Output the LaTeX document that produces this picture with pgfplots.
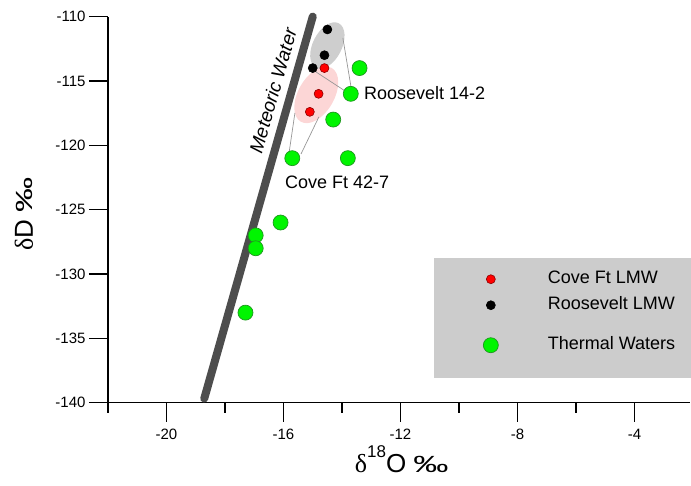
\documentclass[border=0pt]{standalone}
\usepackage{fontspec}
\setmainfont{Liberation Sans}
\newfontfamily\serif{Liberation Serif}
\usepackage{graphicx}
\usepackage{pgfplots}
\pgfplotsset{compat=1.18}
\usetikzlibrary{shapes.geometric}
\definecolor{tgreen}{RGB}{0,245,0}
\definecolor{tgreenedge}{RGB}{30,150,30}
\definecolor{mwgray}{RGB}{77,77,77}
\definecolor{lgbox}{RGB}{204,204,204}
\definecolor{ellgray}{RGB}{206,206,206}
\definecolor{ellpink}{RGB}{252,214,214}
\definecolor{leader}{RGB}{150,150,150}
\begin{document}
\begin{tikzpicture}
\begin{axis}[
  at={(0pt,0pt)}, anchor=south west,
  x=29.25pt, y=12.87pt,
  xmin=-22, xmax=-2.1, ymin=-140, ymax=-110,
  axis x line=bottom, axis y line=left,
  axis line style={-, line width=1.5pt, black},
  tick align=outside,
  major tick length=19pt, minor tick length=10pt,
  every tick/.style={black, line width=1.5pt},
  xtick={-20,-16,-12,-8,-4},
  minor xtick={-22,-18,-14,-10,-6},
  xticklabels={-20,-16,-12,-8,-4},
  ytick={-140,-135,-130,-125,-120,-115,-110},
  yticklabels={-140,-135,-130,-125,-120,-115,-110},
  tick label style={font=\fontsize{15}{18}\selectfont},
  xticklabel style={yshift=-4pt},
  xlabel={{\serif δ}\raisebox{15pt}{\fontsize{17}{17}\selectfont 18}O \scalebox{1.35}[0.9]{‰}},
  ylabel={{\serif δ}D \scalebox{1.35}[0.9]{‰}},
  xlabel style={at={(axis description cs:0.5046,-0.1464)}, anchor=center, font=\fontsize{26}{30}\selectfont},
  ylabel style={at={(axis description cs:-0.1443,0.4889)}, anchor=center, font=\fontsize{26}{30}\selectfont},
  clip=false,
  legend style={at={(axis cs:-9.21,-129.73)}, anchor=north west, fill=none, draw=none,
    inner sep=0pt, font=\fontsize{18}{21}\selectfont, row sep=9pt, column sep=49.5pt,
    nodes={inner sep=0pt, text height=13pt, text depth=4pt}},
  legend cell align=left,
]
% legend box
\fill[lgbox] (axis cs:-10.85,-128.75) rectangle (axis cs:-2.07,-138.07);
% ellipses
\node[ellipse, fill=ellpink, minimum width=62pt, minimum height=36pt, rotate=60, inner sep=0pt] at (axis cs:-14.88,-116.08) {};
\node[ellipse, fill=ellgray, minimum width=50pt, minimum height=29pt, rotate=63, inner sep=0pt] at (axis cs:-14.50,-112.25) {};
% meteoric water line
\addplot[forget plot, color=mwgray, line width=8pt, line cap=round] coordinates {(-18.71,-139.68) (-15,-110)};
\node[rotate=74, inner sep=0pt, font=\itshape\fontsize{19}{22}\selectfont] at (axis cs:-16.36,-115.75) {Meteoric Water};
% leader lines
\draw[leader, line width=0.7pt] (axis cs:-13.97,-111.66) -- (axis cs:-13.68,-115.62);
\draw[leader, line width=0.7pt] (axis cs:-14.89,-114.30) -- (axis cs:-13.90,-115.77);
\draw[leader, line width=0.7pt] (axis cs:-15.61,-117.49) -- (axis cs:-15.81,-120.59);
\draw[leader, line width=0.7pt] (axis cs:-14.79,-117.79) -- (axis cs:-15.40,-120.67);
% annotations
\node[anchor=west, inner sep=0pt, font=\fontsize{18}{21}\selectfont] at (axis cs:-13.25,-115.93) {Roosevelt 14-2};
\node[anchor=west, inner sep=0pt, font=\fontsize{18}{21}\selectfont] at (axis cs:-15.95,-122.84) {Cove Ft 42-7};
% data
\addplot[only marks, mark=*, mark size=4.5pt, mark options={fill=red, draw=red!55!black, line width=0.6pt}]
  coordinates {(-14.6,-114) (-14.8,-116) (-15.1,-117.4)};
\addlegendentry{Cove Ft LMW}
\addplot[only marks, mark=*, mark size=4.5pt, mark options={fill=black, draw=black, line width=0.6pt}]
  coordinates {(-14.5,-111) (-14.6,-113) (-15.0,-114)};
\addlegendentry{Roosevelt LMW}
\addlegendimage{empty legend}
\addlegendentry[text height=5pt, text depth=0pt]{}
\addplot[only marks, mark=*, mark size=7.5pt, mark options={fill=tgreen, draw=tgreenedge, line width=0.7pt}]
  coordinates {(-13.4,-114) (-13.7,-116) (-14.3,-118) (-15.7,-121) (-13.8,-121)
               (-16.1,-126) (-16.95,-127) (-16.95,-128) (-17.3,-133)};
\addlegendentry{Thermal Waters}
\end{axis}
\pgfresetboundingbox
\useasboundingbox (-108pt,-82.3pt) rectangle (583pt,402.7pt);
\end{tikzpicture}
\end{document}
